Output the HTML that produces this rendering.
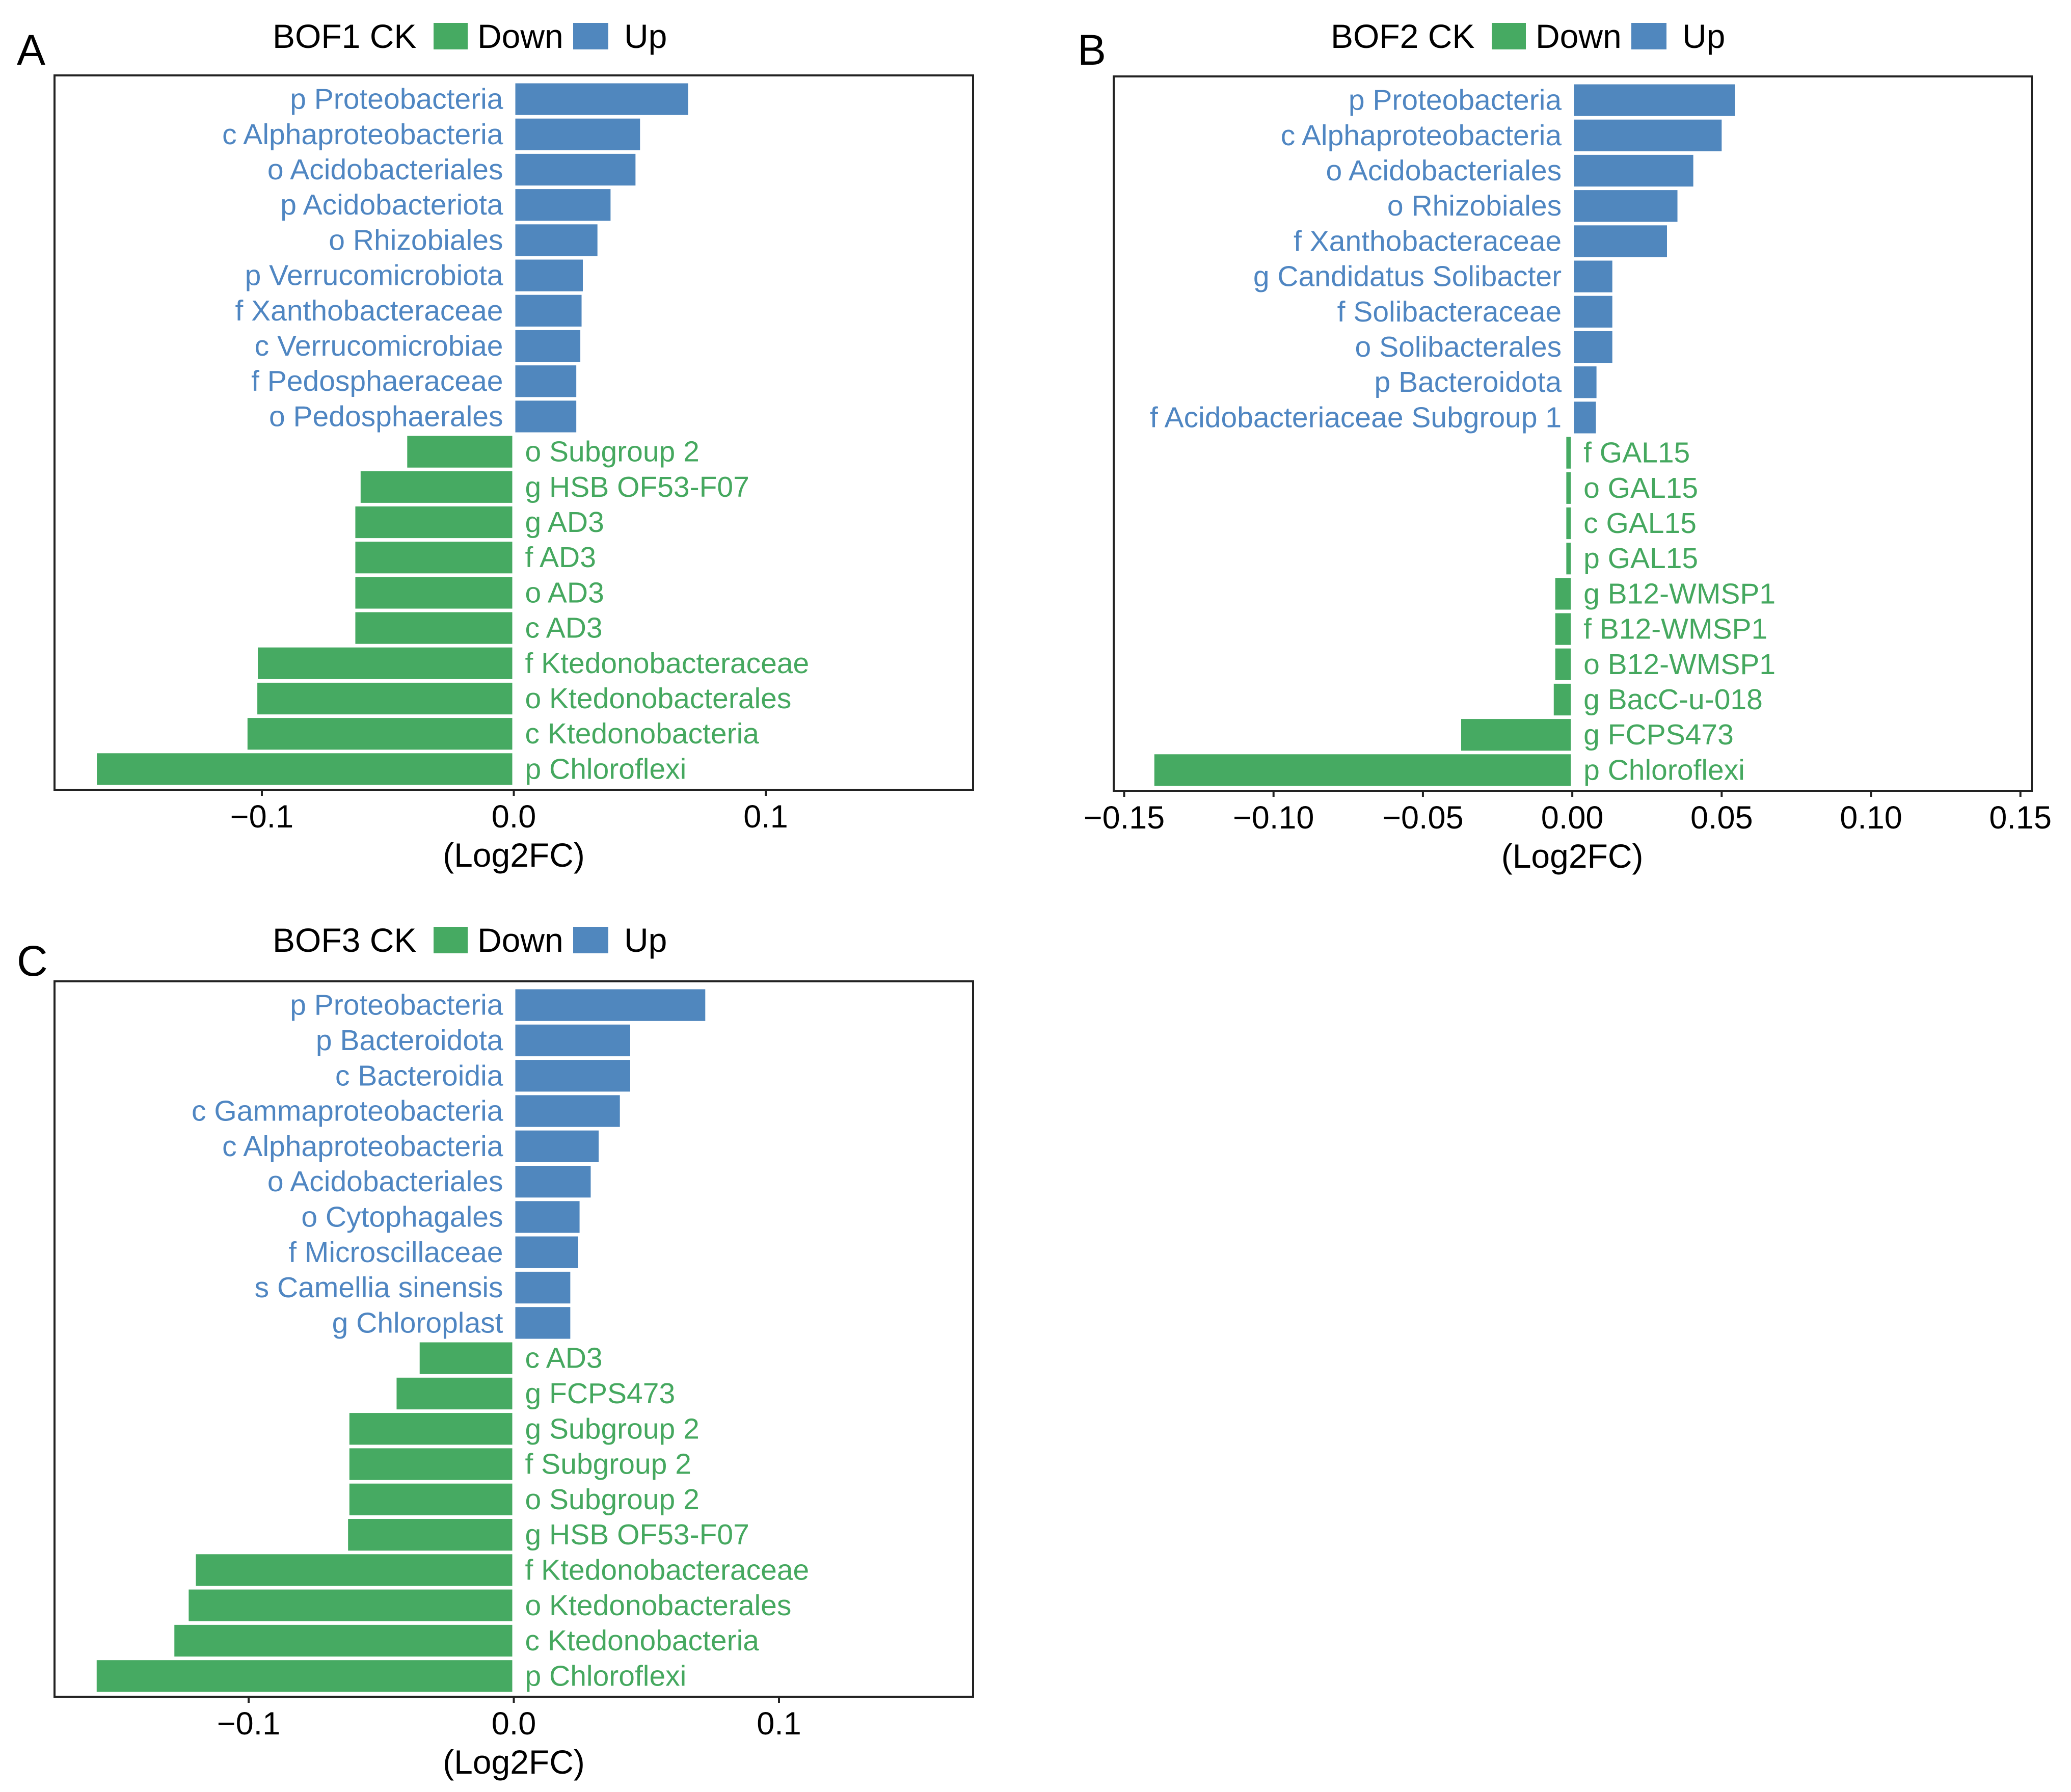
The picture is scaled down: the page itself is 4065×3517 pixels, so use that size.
<!DOCTYPE html>
<html><head><meta charset="utf-8">
<style>
html,body{margin:0;padding:0;background:#fff;}
svg{display:block;font-family:"Liberation Sans",Arial,sans-serif;}
</style></head>
<body>
<svg id="chart" width="4065" height="3517" viewBox="0 0 4065 3517" xmlns="http://www.w3.org/2000/svg"></svg>
<script>
// Panel A data
const catsA = ["p Proteobacteria","c Alphaproteobacteria","o Acidobacteriales","p Acidobacteriota","o Rhizobiales","p Verrucomicrobiota","f Xanthobacteraceae","c Verrucomicrobiae","f Pedosphaeraceae","o Pedosphaerales","o Subgroup 2","g HSB OF53-F07","g AD3","f AD3","o AD3","c AD3","f Ktedonobacteraceae","o Ktedonobacterales","c Ktedonobacteria","p Chloroflexi"];
const valsA = [0.0692,0.0501,0.0483,0.0384,0.0332,0.0274,0.0269,0.0264,0.0248,0.0248,-0.0423,-0.0608,-0.0629,-0.0629,-0.0629,-0.0629,-0.1016,-0.1018,-0.1057,-0.1655];
const ticksA = [-0.1,0,0.1];
const tickLabelsA = ["\u22120.1","0.0","0.1"];
// Panel B data
const catsB = ["p Proteobacteria","c Alphaproteobacteria","o Acidobacteriales","o Rhizobiales","f Xanthobacteraceae","g Candidatus Solibacter","f Solibacteraceae","o Solibacterales","p Bacteroidota","f Acidobacteriaceae Subgroup 1","f GAL15","o GAL15","c GAL15","p GAL15","g B12-WMSP1","f B12-WMSP1","o B12-WMSP1","g BacC-u-018","g FCPS473","p Chloroflexi"];
const valsB = [0.0544,0.0500,0.0405,0.0352,0.0317,0.0134,0.0134,0.0134,0.0081,0.0079,-0.0020,-0.0020,-0.0020,-0.0020,-0.0057,-0.0057,-0.0057,-0.0062,-0.0372,-0.1399];
const ticksB = [-0.15,-0.10,-0.05,0,0.05,0.10,0.15];
const tickLabelsB = ["\u22120.15","\u22120.10","\u22120.05","0.00","0.05","0.10","0.15"];
// Panel C data
const catsC = ["p Proteobacteria","p Bacteroidota","c Bacteroidia","c Gammaproteobacteria","c Alphaproteobacteria","o Acidobacteriales","o Cytophagales","f Microscillaceae","s Camellia sinensis","g Chloroplast","c AD3","g FCPS473","g Subgroup 2","f Subgroup 2","o Subgroup 2","g HSB OF53-F07","f Ktedonobacteraceae","o Ktedonobacterales","c Ktedonobacteria","p Chloroflexi"];
const valsC = [0.0722,0.0439,0.0439,0.0400,0.0320,0.0290,0.0248,0.0243,0.0213,0.0213,-0.0355,-0.0442,-0.0620,-0.0620,-0.0620,-0.0625,-0.1199,-0.1226,-0.1280,-0.1573];
const ticksC = [-0.1,0,0.1];
const tickLabelsC = ["\u22120.1","0.0","0.1"];

const NS="http://www.w3.org/2000/svg";
const svg=document.getElementById('chart');
const BLUE="#5087be", GREEN="#46aa62", TBLUE="#4f86c2", TGREEN="#45a85f";
function mk(tag,attrs,parent){const e=document.createElementNS(NS,tag);for(const k in attrs)e.setAttribute(k,attrs[k]);(parent||svg).appendChild(e);return e;}

function panel(id,letter,title,cats,vals,ticks,tlabels,fx0,fx1,fy0,fy1,dmin,dmax,legX,legY,letX,letY){
  const g=mk('g',{});
  
  
  const x=v=>fx0+(v-dmin)/(dmax-dmin)*(fx1-fx0);
  const padT=12,padB=6;
  const pitch=(fy1-fy0-padT-padB)/cats.length;
  const y=i=>fy0+padT+i*pitch;
  const lt=mk('text',{x:letX,y:letY,'font-size':84,fill:'#000'},g);lt.textContent=letter;
  
  
  const lg=mk('g',{},g);
  
  
  const t1=mk('text',{x:legX,y:legY,'font-size':66,'dominant-baseline':'central',fill:'#000'},lg);t1.textContent=title;
  
  
  const k1=mk('rect',{x:legX+316,y:legY-26,width:67,height:52,fill:GREEN},lg);
  
  
  const t2=mk('text',{x:legX+402,y:legY,'font-size':66,'dominant-baseline':'central',fill:'#000'},lg);t2.textContent="Down";
  
  
  const k2=mk('rect',{x:legX+590,y:legY-26,width:69,height:52,fill:BLUE},lg);
  
  
  const t3=mk('text',{x:legX+690,y:legY,'font-size':66,'dominant-baseline':'central',fill:'#000'},lg);t3.textContent="Up";
  
  
  const x0=x(0);
  cats.forEach((c,i)=>{
    const v=vals[i];
    const xa=Math.min(x(v),x0), w=Math.abs(x(v)-x0);
    const r=mk('rect',{x:v>=0?xa+3:xa,y:y(i)+3.5,width:Math.max(w-3,2),height:pitch-7,fill:v>=0?BLUE:GREEN},g);
    
    
    const t=mk('text',{x:v>=0?x0-21:x0+22,y:y(i)+pitch/2,'font-size':57,'dominant-baseline':'central','text-anchor':v>=0?'end':'start',fill:v>=0?TBLUE:TGREEN},g);
    t.textContent=c;
    
    
  });
  const fr=mk('rect',{x:fx0,y:fy0,width:fx1-fx0,height:fy1-fy0,fill:'none',stroke:'#222','stroke-width':4},g);
  
  
  ticks.forEach((tv,i)=>{
    const tx=x(tv);
    const tk=mk('line',{x1:tx,x2:tx,y1:fy1,y2:fy1+12,stroke:'#222','stroke-width':4},g);
    
    
    const tl=mk('text',{x:tx,y:fy1+53,'font-size':63,'text-anchor':'middle','dominant-baseline':'central',fill:'#000'},g);
    tl.textContent=tlabels[i];
    
    
  });
  const at=mk('text',{x:x0,y:fy1+128,'font-size':66,'text-anchor':'middle','dominant-baseline':'central',fill:'#000'},g);
  at.textContent="(Log2FC)";
  
  
}
panel('a','A','BOF1 CK',catsA,valsA,ticksA,tickLabelsA,107,1910,148,1550,-0.1823,0.1823,535,71,33,127);
panel('b','B','BOF2 CK',catsB,valsB,ticksB,tickLabelsB,2186,3988,150,1552,-0.1535,0.1538,2612,71,2115,127);
panel('c','C','BOF3 CK',catsC,valsC,ticksC,tickLabelsC,107,1910,1926,3330,-0.1732,0.1732,535,1845,33,1915);
</script>
</body></html>
